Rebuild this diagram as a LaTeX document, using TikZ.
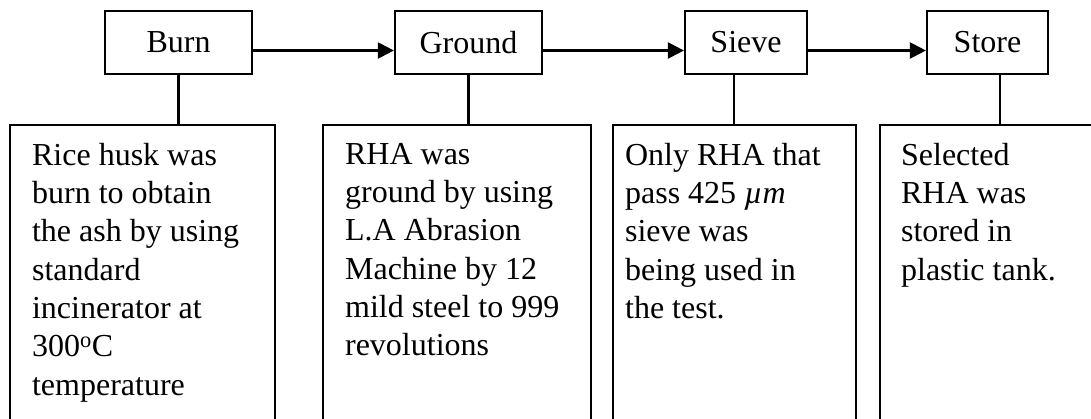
\documentclass[tikz,border=0pt]{standalone}
\usepackage{fontspec}
\setmainfont{Liberation Serif}
\usetikzlibrary{arrows.meta}
\begin{document}
\begin{tikzpicture}[x=1pt,y=-1pt,
  stepbox/.style={draw, line width=2.2pt, minimum height=63pt, inner sep=0pt, font=\fontsize{32}{38.3}\selectfont},
  descbox/.style={draw, line width=2.2pt, anchor=north west, inner ysep=18pt, font=\fontsize{32}{38.3}\selectfont},
  flow/.style={line width=2.2pt, -{Triangle[length=16pt,width=16pt]}},
  link/.style={line width=2.2pt}]
\useasboundingbox (0,0) rectangle (1091,418);
\clip (0,0) rectangle (1091,418);
% top step boxes
\node[stepbox, minimum width=147pt] (burn) at (178.5,42.5) {Burn};
\node[stepbox, minimum width=147pt] (ground) at (468.5,42.5) {Ground};
\node[stepbox, minimum width=122pt] (sieve) at (746,42.5) {Sieve};
\node[stepbox, minimum width=121pt] (store) at (987.5,42.5) {Store};
% description boxes
\node[descbox, inner xsep=22pt] (d1) at (9,124)
  {\parbox[t][280pt][t]{221pt}{\raggedright Rice husk was\\ burn to obtain\\ the ash by using\\ standard\\ incinerator at\\ 300\textsuperscript{o}C\\ temperature}};
\node[descbox, inner xsep=22pt] (d2) at (322,124)
  {\parbox[t][280pt][t]{224pt}{\raggedright RHA was\\ ground by using\\ L.A Abrasion\\ Machine by 12\\ mild steel to 999\\ revolutions}};
\node[descbox, inner xsep=12pt] (d3) at (612,124)
  {\parbox[t][280pt][t]{219pt}{\raggedright Only RHA that\\ pass 425 \textit{µm}\\ sieve was\\ being used in\\ the test.}};
\node[descbox, inner xsep=21pt] (d4) at (879,124)
  {\parbox[t][280pt][t]{240pt}{\raggedright Selected\\ RHA was\\ stored in\\ plastic tank.}};
% flow arrows
\draw[flow] ([yshift=-8pt]burn.east) -- ([yshift=-8pt]ground.west);
\draw[flow] ([yshift=-8pt]ground.east) -- ([yshift=-8pt]sieve.west);
\draw[flow] ([yshift=-8pt]sieve.east) -- ([yshift=-8pt]store.west);
% vertical links
\draw[link] (burn.south) -- (burn.south |- d1.north);
\draw[link] (ground.south) -- (ground.south |- d2.north);
\draw[link] ([xshift=-12pt]sieve.south) -- ([xshift=-12pt]sieve.south |- d3.north);
\draw[link] ([xshift=12.5pt]store.south) -- ([xshift=12.5pt]store.south |- d4.north);
\end{tikzpicture}
\end{document}
